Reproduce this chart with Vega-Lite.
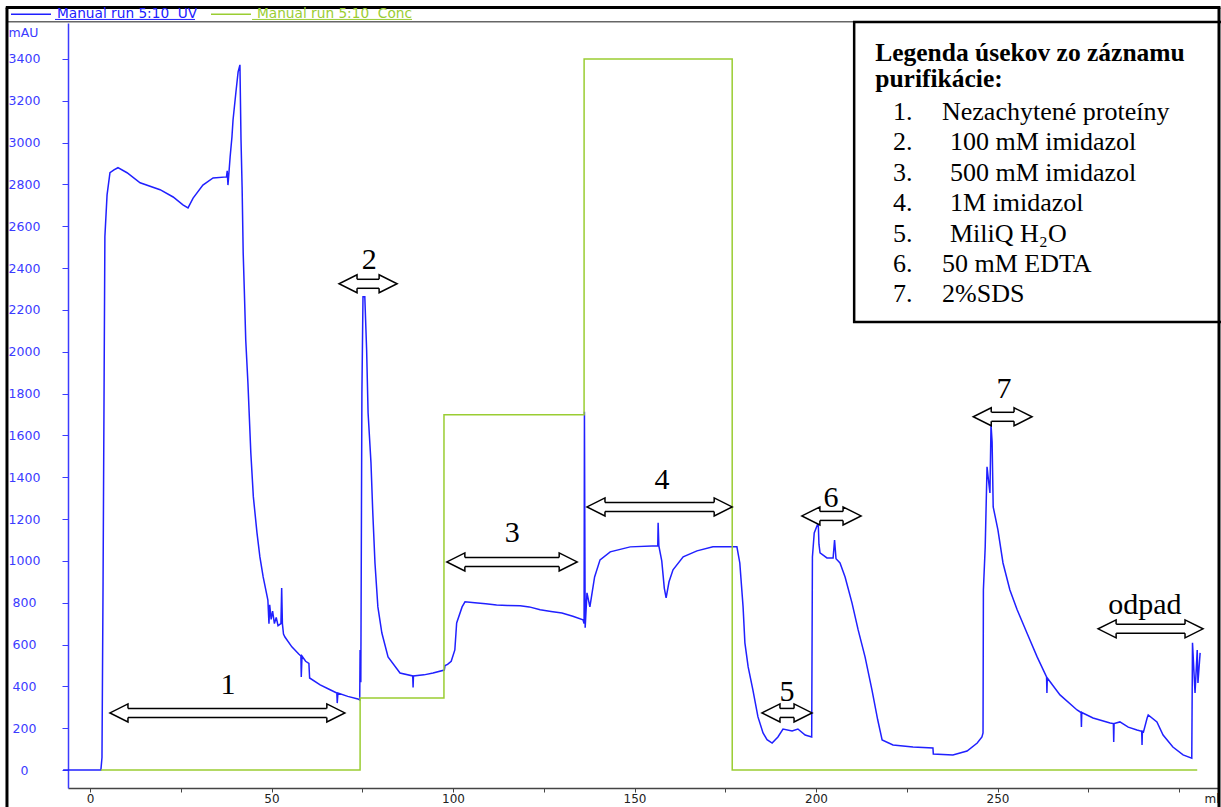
{
  "$schema": "https://vega.github.io/schema/vega-lite/v6.json",
  "width": 1151,
  "height": 765,
  "autosize": {"type": "none"},
  "padding": {"left": 68, "top": 23, "right": 2, "bottom": 19},
  "background": "white",
  "config": {"view": {"stroke": null}},
  "datasets": {
    "trace": [
      {"ml": -7.4, "v": 0, "s": "UV"}, {"ml": 3.0, "v": 0, "s": "UV"}, {"ml": 3.3, "v": 60, "s": "UV"}, {"ml": 3.6, "v": 900, "s": "UV"}, {"ml": 3.9, "v": 1900, "s": "UV"}, {"ml": 4.1, "v": 2550, "s": "UV"}, {"ml": 4.7, "v": 2750, "s": "UV"}, {"ml": 5.5, "v": 2856, "s": "UV"}, {"ml": 6.6, "v": 2870, "s": "UV"}, {"ml": 7.7, "v": 2880, "s": "UV"}, {"ml": 10.2, "v": 2856, "s": "UV"}, {"ml": 13.8, "v": 2808, "s": "UV"}, {"ml": 19.3, "v": 2775, "s": "UV"}, {"ml": 22.9, "v": 2740, "s": "UV"}, {"ml": 25.6, "v": 2702, "s": "UV"}, {"ml": 27.0, "v": 2688, "s": "UV"}, {"ml": 28.4, "v": 2735, "s": "UV"}, {"ml": 31.1, "v": 2797, "s": "UV"}, {"ml": 33.9, "v": 2831, "s": "UV"}, {"ml": 37.6, "v": 2836, "s": "UV"}, {"ml": 37.8, "v": 2865, "s": "UV"}, {"ml": 38.0, "v": 2797, "s": "UV"}, {"ml": 38.2, "v": 2840, "s": "UV"}, {"ml": 38.6, "v": 2931, "s": "UV"}, {"ml": 39.1, "v": 3027, "s": "UV"}, {"ml": 39.4, "v": 3108, "s": "UV"}, {"ml": 40.2, "v": 3242, "s": "UV"}, {"ml": 40.8, "v": 3338, "s": "UV"}, {"ml": 41.3, "v": 3372, "s": "UV"}, {"ml": 41.6, "v": 3013, "s": "UV"}, {"ml": 41.9, "v": 2788, "s": "UV"}, {"ml": 42.2, "v": 2472, "s": "UV"}, {"ml": 42.5, "v": 2300, "s": "UV"}, {"ml": 42.9, "v": 2056, "s": "UV"}, {"ml": 43.5, "v": 1852, "s": "UV"}, {"ml": 44.3, "v": 1517, "s": "UV"}, {"ml": 45.0, "v": 1306, "s": "UV"}, {"ml": 46.0, "v": 1134, "s": "UV"}, {"ml": 46.8, "v": 1019, "s": "UV"}, {"ml": 47.7, "v": 923, "s": "UV"}, {"ml": 49.0, "v": 813, "s": "UV"}, {"ml": 49.3, "v": 700, "s": "UV"}, {"ml": 49.5, "v": 790, "s": "UV"}, {"ml": 49.9, "v": 720, "s": "UV"}, {"ml": 50.3, "v": 760, "s": "UV"}, {"ml": 50.8, "v": 700, "s": "UV"}, {"ml": 51.3, "v": 730, "s": "UV"}, {"ml": 51.8, "v": 690, "s": "UV"}, {"ml": 52.6, "v": 700, "s": "UV"}, {"ml": 52.8, "v": 870, "s": "UV"}, {"ml": 53.0, "v": 700, "s": "UV"}, {"ml": 53.3, "v": 650, "s": "UV"}, {"ml": 53.7, "v": 636, "s": "UV"}, {"ml": 55.6, "v": 589, "s": "UV"}, {"ml": 57.5, "v": 555, "s": "UV"}, {"ml": 58.1, "v": 545, "s": "UV"}, {"ml": 58.2, "v": 445, "s": "UV"}, {"ml": 58.4, "v": 545, "s": "UV"}, {"ml": 59.4, "v": 520, "s": "UV"}, {"ml": 60.3, "v": 510, "s": "UV"}, {"ml": 60.5, "v": 440, "s": "UV"}, {"ml": 63.4, "v": 407, "s": "UV"}, {"ml": 66.0, "v": 385, "s": "UV"}, {"ml": 68.0, "v": 368, "s": "UV"}, {"ml": 68.1, "v": 320, "s": "UV"}, {"ml": 68.3, "v": 368, "s": "UV"}, {"ml": 71.0, "v": 352, "s": "UV"}, {"ml": 73.8, "v": 340, "s": "UV"}, {"ml": 74.3, "v": 335, "s": "UV"}, {"ml": 74.4, "v": 574, "s": "UV"}, {"ml": 74.6, "v": 420, "s": "UV"}, {"ml": 74.9, "v": 1800, "s": "UV"}, {"ml": 75.2, "v": 2263, "s": "UV"}, {"ml": 75.7, "v": 2263, "s": "UV"}, {"ml": 76.2, "v": 2010, "s": "UV"}, {"ml": 76.6, "v": 1708, "s": "UV"}, {"ml": 77.4, "v": 1469, "s": "UV"}, {"ml": 77.9, "v": 1230, "s": "UV"}, {"ml": 78.5, "v": 990, "s": "UV"}, {"ml": 79.3, "v": 780, "s": "UV"}, {"ml": 80.4, "v": 655, "s": "UV"}, {"ml": 82.1, "v": 541, "s": "UV"}, {"ml": 85.4, "v": 464, "s": "UV"}, {"ml": 88.9, "v": 450, "s": "UV"}, {"ml": 89.0, "v": 395, "s": "UV"}, {"ml": 89.1, "v": 450, "s": "UV"}, {"ml": 92.0, "v": 455, "s": "UV"}, {"ml": 94.5, "v": 464, "s": "UV"}, {"ml": 97.6, "v": 478, "s": "UV"}, {"ml": 97.8, "v": 500, "s": "UV"}, {"ml": 98.5, "v": 505, "s": "UV"}, {"ml": 99.5, "v": 520, "s": "UV"}, {"ml": 100.5, "v": 574, "s": "UV"}, {"ml": 101.0, "v": 703, "s": "UV"}, {"ml": 102.5, "v": 780, "s": "UV"}, {"ml": 103.3, "v": 804, "s": "UV"}, {"ml": 106.0, "v": 800, "s": "UV"}, {"ml": 109.0, "v": 795, "s": "UV"}, {"ml": 112.0, "v": 789, "s": "UV"}, {"ml": 115.0, "v": 787, "s": "UV"}, {"ml": 118.5, "v": 785, "s": "UV"}, {"ml": 121.0, "v": 780, "s": "UV"}, {"ml": 124.0, "v": 766, "s": "UV"}, {"ml": 127.0, "v": 758, "s": "UV"}, {"ml": 130.0, "v": 751, "s": "UV"}, {"ml": 133.0, "v": 735, "s": "UV"}, {"ml": 135.8, "v": 718, "s": "UV"}, {"ml": 136.1, "v": 700, "s": "UV"}, {"ml": 136.2, "v": 1713, "s": "UV"}, {"ml": 136.3, "v": 1200, "s": "UV"}, {"ml": 136.4, "v": 680, "s": "UV"}, {"ml": 136.9, "v": 847, "s": "UV"}, {"ml": 137.7, "v": 780, "s": "UV"}, {"ml": 139.0, "v": 923, "s": "UV"}, {"ml": 140.5, "v": 1005, "s": "UV"}, {"ml": 143.3, "v": 1043, "s": "UV"}, {"ml": 148.8, "v": 1067, "s": "UV"}, {"ml": 156.4, "v": 1072, "s": "UV"}, {"ml": 156.5, "v": 1182, "s": "UV"}, {"ml": 156.7, "v": 1072, "s": "UV"}, {"ml": 157.5, "v": 1000, "s": "UV"}, {"ml": 158.2, "v": 870, "s": "UV"}, {"ml": 158.7, "v": 823, "s": "UV"}, {"ml": 159.5, "v": 900, "s": "UV"}, {"ml": 160.6, "v": 957, "s": "UV"}, {"ml": 163.4, "v": 1019, "s": "UV"}, {"ml": 167.2, "v": 1048, "s": "UV"}, {"ml": 171.6, "v": 1067, "s": "UV"}, {"ml": 178.2, "v": 1067, "s": "UV"}, {"ml": 179.0, "v": 990, "s": "UV"}, {"ml": 179.9, "v": 780, "s": "UV"}, {"ml": 180.4, "v": 608, "s": "UV"}, {"ml": 181.3, "v": 493, "s": "UV"}, {"ml": 182.6, "v": 383, "s": "UV"}, {"ml": 184.0, "v": 254, "s": "UV"}, {"ml": 185.4, "v": 177, "s": "UV"}, {"ml": 186.5, "v": 145, "s": "UV"}, {"ml": 187.9, "v": 129, "s": "UV"}, {"ml": 189.5, "v": 158, "s": "UV"}, {"ml": 190.9, "v": 196, "s": "UV"}, {"ml": 193.4, "v": 187, "s": "UV"}, {"ml": 195.0, "v": 196, "s": "UV"}, {"ml": 197.0, "v": 167, "s": "UV"}, {"ml": 198.8, "v": 158, "s": "UV"}, {"ml": 199.0, "v": 1019, "s": "UV"}, {"ml": 199.5, "v": 1134, "s": "UV"}, {"ml": 200.6, "v": 1182, "s": "UV"}, {"ml": 200.8, "v": 1080, "s": "UV"}, {"ml": 201.1, "v": 1038, "s": "UV"}, {"ml": 203.0, "v": 1014, "s": "UV"}, {"ml": 204.7, "v": 1014, "s": "UV"}, {"ml": 205.1, "v": 1100, "s": "UV"}, {"ml": 205.5, "v": 1010, "s": "UV"}, {"ml": 206.6, "v": 990, "s": "UV"}, {"ml": 208.0, "v": 923, "s": "UV"}, {"ml": 209.9, "v": 799, "s": "UV"}, {"ml": 211.6, "v": 670, "s": "UV"}, {"ml": 213.5, "v": 541, "s": "UV"}, {"ml": 215.4, "v": 383, "s": "UV"}, {"ml": 217.0, "v": 239, "s": "UV"}, {"ml": 218.2, "v": 144, "s": "UV"}, {"ml": 221.2, "v": 120, "s": "UV"}, {"ml": 226.7, "v": 110, "s": "UV"}, {"ml": 232.2, "v": 105, "s": "UV"}, {"ml": 232.3, "v": 77, "s": "UV"}, {"ml": 237.7, "v": 72, "s": "UV"}, {"ml": 241.6, "v": 91, "s": "UV"}, {"ml": 244.4, "v": 129, "s": "UV"}, {"ml": 245.7, "v": 158, "s": "UV"}, {"ml": 246.0, "v": 177, "s": "UV"}, {"ml": 246.1, "v": 861, "s": "UV"}, {"ml": 246.6, "v": 1067, "s": "UV"}, {"ml": 247.1, "v": 1450, "s": "UV"}, {"ml": 247.4, "v": 1402, "s": "UV"}, {"ml": 247.9, "v": 1325, "s": "UV"}, {"ml": 248.2, "v": 1651, "s": "UV"}, {"ml": 248.5, "v": 1569, "s": "UV"}, {"ml": 248.8, "v": 1258, "s": "UV"}, {"ml": 250.1, "v": 1148, "s": "UV"}, {"ml": 251.5, "v": 990, "s": "UV"}, {"ml": 253.4, "v": 861, "s": "UV"}, {"ml": 255.4, "v": 766, "s": "UV"}, {"ml": 258.1, "v": 655, "s": "UV"}, {"ml": 260.9, "v": 541, "s": "UV"}, {"ml": 263.5, "v": 445, "s": "UV"}, {"ml": 263.6, "v": 368, "s": "UV"}, {"ml": 263.7, "v": 440, "s": "UV"}, {"ml": 267.2, "v": 359, "s": "UV"}, {"ml": 271.9, "v": 287, "s": "UV"}, {"ml": 273.0, "v": 275, "s": "UV"}, {"ml": 273.1, "v": 206, "s": "UV"}, {"ml": 273.2, "v": 275, "s": "UV"}, {"ml": 276.3, "v": 249, "s": "UV"}, {"ml": 281.0, "v": 225, "s": "UV"}, {"ml": 281.9, "v": 222, "s": "UV"}, {"ml": 282.0, "v": 134, "s": "UV"}, {"ml": 282.1, "v": 222, "s": "UV"}, {"ml": 283.7, "v": 230, "s": "UV"}, {"ml": 286.0, "v": 205, "s": "UV"}, {"ml": 288.4, "v": 191, "s": "UV"}, {"ml": 289.7, "v": 185, "s": "UV"}, {"ml": 289.8, "v": 120, "s": "UV"}, {"ml": 289.9, "v": 185, "s": "UV"}, {"ml": 290.2, "v": 182, "s": "UV"}, {"ml": 291.2, "v": 249, "s": "UV"}, {"ml": 291.5, "v": 263, "s": "UV"}, {"ml": 293.9, "v": 230, "s": "UV"}, {"ml": 295.6, "v": 167, "s": "UV"}, {"ml": 298.3, "v": 110, "s": "UV"}, {"ml": 301.1, "v": 72, "s": "UV"}, {"ml": 303.5, "v": 57, "s": "UV"}, {"ml": 303.7, "v": 608, "s": "UV"}, {"ml": 304.4, "v": 368, "s": "UV"}, {"ml": 305.0, "v": 574, "s": "UV"}, {"ml": 305.2, "v": 416, "s": "UV"}, {"ml": 305.8, "v": 560, "s": "UV"},
      {"ml": 3.0, "v": 0, "s": "Conc"}, {"ml": 74.4, "v": 0, "s": "Conc"}, {"ml": 74.41, "v": 344, "s": "Conc"}, {"ml": 97.5, "v": 344, "s": "Conc"}, {"ml": 97.51, "v": 1699, "s": "Conc"}, {"ml": 136.1, "v": 1699, "s": "Conc"}, {"ml": 136.11, "v": 3400, "s": "Conc"}, {"ml": 176.9, "v": 3400, "s": "Conc"}, {"ml": 176.91, "v": 0, "s": "Conc"}, {"ml": 305.0, "v": 0, "s": "Conc"}
    ],
    "arrows": [
      {"t": "1", "x1": 5.5, "x2": 70.2, "y": 273, "lx": 38.0, "ly": 407},
      {"t": "2", "x1": 68.6, "x2": 84.6, "y": 2325, "lx": 76.9, "ly": 2440},
      {"t": "3", "x1": 98.3, "x2": 134.2, "y": 995, "lx": 116.3, "ly": 1134},
      {"t": "4", "x1": 136.9, "x2": 176.9, "y": 1258, "lx": 157.6, "ly": 1387},
      {"t": "5", "x1": 185.1, "x2": 198.9, "y": 273, "lx": 192.0, "ly": 373},
      {"t": "6", "x1": 196.1, "x2": 212.4, "y": 1215, "lx": 204.1, "ly": 1301},
      {"t": "7", "x1": 243.3, "x2": 259.5, "y": 1689, "lx": 251.8, "ly": 1823},
      {"t": "odpad", "x1": 277.7, "x2": 306.6, "y": 675, "lx": 290.6, "ly": 789}
    ]
  },
  "layer": [
    {
      "data": {"name": "trace"},
      "mark": {"type": "line", "strokeWidth": 1.5},
      "encoding": {
        "x": {
          "field": "ml", "type": "quantitative",
          "scale": {"domain": [-6.06, 311.0], "nice": false, "zero": false},
          "axis": {
            "values": [0, 25, 50, 75, 100, 125, 150, 175, 200, 225, 250, 275, 300],
            "labelExpr": "datum.value % 50 === 0 && datum.value < 300 ? datum.label : ''",
            "domainColor": "#444444", "domainWidth": 1.5, "tickColor": "#444444", "tickSize": 4,
            "labelColor": "#222222", "labelFont": "DejaVu Sans", "labelFontSize": 12, "labelPadding": 1,
            "labelFlush": false, "labelOverlap": false, "grid": false,
            "title": "ml", "titleX": 1136, "titleY": 10, "titleAlign": "left", "titleBaseline": "middle",
            "titleFont": "DejaVu Sans", "titleFontSize": 12, "titleFontWeight": "normal", "titleColor": "#222222"
          }
        },
        "y": {
          "field": "v", "type": "quantitative",
          "scale": {"domain": [-86, 3572], "nice": false, "zero": false},
          "axis": {
            "values": [0, 200, 400, 600, 800, 1000, 1200, 1400, 1600, 1800, 2000, 2200, 2400, 2600, 2800, 3000, 3200, 3400],
            "format": "d",
            "domainColor": "#3b3bff", "domainWidth": 1.5, "tickColor": "#3b3bff", "tickSize": 6,
            "labelColor": "#3b3bff", "labelFont": "DejaVu Sans", "labelFontSize": 12.5, "labelAlign": "center", "labelPadding": 38,
            "labelFlush": false, "labelOverlap": false, "grid": false,
            "title": "mAU", "titleAngle": 0, "titleX": -60, "titleY": 9, "titleAlign": "left", "titleBaseline": "middle",
            "titleColor": "#3b3bff", "titleFont": "DejaVu Sans", "titleFontSize": 12.5, "titleFontWeight": "normal"
          }
        },
        "color": {
          "field": "s", "type": "nominal",
          "scale": {"domain": ["UV", "Conc"], "range": ["#2020ff", "#9acd32"]},
          "legend": {
            "orient": "none", "legendX": -58, "legendY": -30, "direction": "horizontal", "title": null,
            "symbolType": "stroke", "symbolSize": 1600, "symbolStrokeWidth": 1.5,
            "labelFont": "DejaVu Sans", "labelFontSize": 13.7, "labelOffset": 5, "columnPadding": 10,
            "padding": 0, "labelLimit": 400,
            "labelExpr": "'Manual run 5:10\u00a0 ' + datum.label",
            "encode": {"labels": {"update": {"fill": {"scale": "color", "field": "value"}}}}
          }
        }
      }
    },
    {
      "data": {"values": [{}]},
      "mark": {"type": "rule", "stroke": "#666666", "strokeWidth": 1.5},
      "encoding": {
        "x": {"datum": -22.87, "type": "quantitative", "scale": {"domain": [-6.06, 311.0], "nice": false, "zero": false}},
        "x2": {"datum": 311.0},
        "y": {"datum": 3578, "type": "quantitative", "scale": {"domain": [-86, 3572], "nice": false, "zero": false}}
      }
    },
    {
      "data": {"values": [{}]},
      "mark": {"type": "rule", "stroke": "#2020ff", "strokeWidth": 1},
      "encoding": {
        "x": {"datum": -9.64, "type": "quantitative", "scale": {"domain": [-6.06, 311.0], "nice": false, "zero": false}},
        "x2": {"datum": 28.93},
        "y": {"datum": 3589, "type": "quantitative", "scale": {"domain": [-86, 3572], "nice": false, "zero": false}}
      }
    },
    {
      "data": {"values": [{}]},
      "mark": {"type": "rule", "stroke": "#9acd32", "strokeWidth": 1},
      "encoding": {
        "x": {"datum": 44.63, "type": "quantitative", "scale": {"domain": [-6.06, 311.0], "nice": false, "zero": false}},
        "x2": {"datum": 88.71},
        "y": {"datum": 3589, "type": "quantitative", "scale": {"domain": [-86, 3572], "nice": false, "zero": false}}
      }
    },
    {
      "data": {"values": [{}]},
      "mark": {"type": "rect", "fill": "white", "stroke": "black", "strokeWidth": 2.5},
      "encoding": {
        "x": {"datum": 210.5, "type": "quantitative", "scale": {"domain": [-6.06, 311.0], "nice": false, "zero": false}},
        "x2": {"datum": 312.0},
        "y": {"datum": 3577, "type": "quantitative", "scale": {"domain": [-86, 3572], "nice": false, "zero": false}},
        "y2": {"datum": 2142}
      }
    },
    {
      "data": {"values": [{}]},
      "mark": {"type": "text", "text": ["Legenda úsekov zo záznamu", "purifikácie:"], "font": "Liberation Serif", "fontSize": 25.5, "fontWeight": "bold", "align": "left", "baseline": "alphabetic", "lineHeight": 26, "color": "black"},
      "encoding": {
        "x": {"datum": 216.3, "type": "quantitative", "scale": {"domain": [-6.06, 311.0], "nice": false, "zero": false}},
        "y": {"datum": 3390, "type": "quantitative", "scale": {"domain": [-86, 3572], "nice": false, "zero": false}}
      }
    },
    {
      "data": {"values": [{}]},
      "mark": {"type": "text", "text": ["1.", "2.", "3.", "4.", "5.", "6.", "7."], "font": "Liberation Serif", "fontSize": 26, "align": "left", "baseline": "alphabetic", "lineHeight": 30.4, "color": "black"},
      "encoding": {
        "x": {"datum": 221.2, "type": "quantitative", "scale": {"domain": [-6.06, 311.0], "nice": false, "zero": false}},
        "y": {"datum": 3108.6, "type": "quantitative", "scale": {"domain": [-86, 3572], "nice": false, "zero": false}}
      }
    },
    {
      "data": {"values": [{}]},
      "mark": {"type": "text", "text": "Nezachytené proteíny", "font": "Liberation Serif", "fontSize": 26, "align": "left", "baseline": "alphabetic", "color": "black"},
      "encoding": {
        "x": {"datum": 234.7, "type": "quantitative", "scale": {"domain": [-6.06, 311.0], "nice": false, "zero": false}},
        "y": {"datum": 3108.6, "type": "quantitative", "scale": {"domain": [-86, 3572], "nice": false, "zero": false}}
      }
    },
    {
      "data": {"values": [{}]},
      "mark": {"type": "text", "text": ["100 mM imidazol", "500 mM imidazol", "1M imidazol", "MiliQ H₂O"], "font": "Liberation Serif", "fontSize": 26, "align": "left", "baseline": "alphabetic", "lineHeight": 30.4, "color": "black"},
      "encoding": {
        "x": {"datum": 236.9, "type": "quantitative", "scale": {"domain": [-6.06, 311.0], "nice": false, "zero": false}},
        "y": {"datum": 2963.2, "type": "quantitative", "scale": {"domain": [-86, 3572], "nice": false, "zero": false}}
      }
    },
    {
      "data": {"values": [{}]},
      "mark": {"type": "text", "text": ["50 mM EDTA", "2%SDS"], "font": "Liberation Serif", "fontSize": 26, "align": "left", "baseline": "alphabetic", "lineHeight": 30.4, "color": "black"},
      "encoding": {
        "x": {"datum": 234.7, "type": "quantitative", "scale": {"domain": [-6.06, 311.0], "nice": false, "zero": false}},
        "y": {"datum": 2381.8, "type": "quantitative", "scale": {"domain": [-86, 3572], "nice": false, "zero": false}}
      }
    },
    {
      "data": {"name": "arrows"},
      "mark": {"type": "rule", "yOffset": -4.5, "xOffset": 18, "x2Offset": -18, "stroke": "black", "strokeWidth": 1.5},
      "encoding": {
        "x": {"field": "x1", "type": "quantitative", "scale": {"domain": [-6.06, 311.0], "nice": false, "zero": false}},
        "x2": {"field": "x2"},
        "y": {"field": "y", "type": "quantitative", "scale": {"domain": [-86, 3572], "nice": false, "zero": false}}
      }
    },
    {
      "data": {"name": "arrows"},
      "mark": {"type": "rule", "yOffset": 4.5, "xOffset": 18, "x2Offset": -18, "stroke": "black", "strokeWidth": 1.5},
      "encoding": {
        "x": {"field": "x1", "type": "quantitative", "scale": {"domain": [-6.06, 311.0], "nice": false, "zero": false}},
        "x2": {"field": "x2"},
        "y": {"field": "y", "type": "quantitative", "scale": {"domain": [-86, 3572], "nice": false, "zero": false}}
      }
    },
    {
      "data": {"name": "arrows"},
      "mark": {"type": "point", "shape": "M18,-4.5L18,-9L0,0L18,9L18,4.5", "size": 4, "filled": true, "fill": "white", "stroke": "black", "strokeWidth": 1.5, "opacity": 1},
      "encoding": {
        "x": {"field": "x1", "type": "quantitative", "scale": {"domain": [-6.06, 311.0], "nice": false, "zero": false}},
        "y": {"field": "y", "type": "quantitative", "scale": {"domain": [-86, 3572], "nice": false, "zero": false}}
      }
    },
    {
      "data": {"name": "arrows"},
      "mark": {"type": "point", "shape": "M-18,-4.5L-18,-9L0,0L-18,9L-18,4.5", "size": 4, "filled": true, "fill": "white", "stroke": "black", "strokeWidth": 1.5, "opacity": 1},
      "encoding": {
        "x": {"field": "x2", "type": "quantitative", "scale": {"domain": [-6.06, 311.0], "nice": false, "zero": false}},
        "y": {"field": "y", "type": "quantitative", "scale": {"domain": [-86, 3572], "nice": false, "zero": false}}
      }
    },
    {
      "data": {"name": "arrows"},
      "mark": {"type": "text", "font": "Liberation Serif", "fontSize": 30, "align": "center", "baseline": "middle", "color": "black"},
      "encoding": {
        "x": {"field": "lx", "type": "quantitative", "scale": {"domain": [-6.06, 311.0], "nice": false, "zero": false}},
        "y": {"field": "ly", "type": "quantitative", "scale": {"domain": [-86, 3572], "nice": false, "zero": false}},
        "text": {"field": "t", "type": "nominal"}
      }
    },
    {
      "data": {"values": [{}]},
      "mark": {"type": "rule", "stroke": "black", "strokeWidth": 3},
      "encoding": {
        "x": {"datum": -22.87, "type": "quantitative", "scale": {"domain": [-6.06, 311.0], "nice": false, "zero": false}},
        "y": {"datum": 3646, "type": "quantitative", "scale": {"domain": [-86, 3572], "nice": false, "zero": false}},
        "y2": {"datum": -190}
      }
    },
    {
      "data": {"values": [{}]},
      "mark": {"type": "rule", "stroke": "black", "strokeWidth": 3},
      "encoding": {
        "x": {"datum": 311.0, "type": "quantitative", "scale": {"domain": [-6.06, 311.0], "nice": false, "zero": false}},
        "y": {"datum": 3646, "type": "quantitative", "scale": {"domain": [-86, 3572], "nice": false, "zero": false}},
        "y2": {"datum": -190}
      }
    },
    {
      "data": {"values": [{}]},
      "mark": {"type": "rule", "stroke": "black", "strokeWidth": 3},
      "encoding": {
        "x": {"datum": -23.2, "type": "quantitative", "scale": {"domain": [-6.06, 311.0], "nice": false, "zero": false}},
        "x2": {"datum": 311.4},
        "y": {"datum": 3646, "type": "quantitative", "scale": {"domain": [-86, 3572], "nice": false, "zero": false}}
      }
    }
  ]
}
